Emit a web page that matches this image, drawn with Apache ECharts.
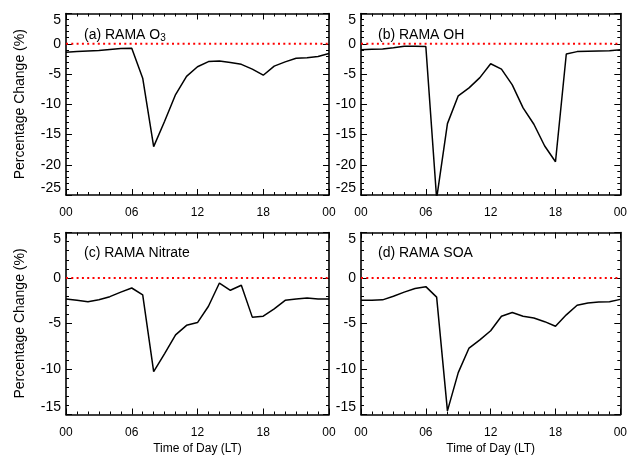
<!DOCTYPE html>
<html><head><meta charset="utf-8">
<script src="https://cdn.jsdelivr.net/npm/echarts@6/dist/echarts.min.js"></script>
<style>html,body{margin:0;padding:0;background:#fff}#c{width:630px;height:456px}</style>
</head><body><div id="c"></div>
<script>
// Hour of day (LT)
const hours = [0,1,2,3,4,5,6,7,8,9,10,11,12,13,14,15,16,17,18,19,20,21,22,23,24];
// Percentage change (%)
const o3      = [-1.4,-1.3,-1.2,-1.1,-0.95,-0.8,-0.75,-5.7,-17.0,-12.8,-8.4,-5.4,-3.8,-2.95,-2.85,-3.1,-3.4,-4.2,-5.2,-3.7,-3.0,-2.4,-2.3,-2.1,-1.6];
const oh      = [-1.0,-0.9,-0.85,-0.65,-0.4,-0.4,-0.45,-25.6,-13.2,-8.6,-7.3,-5.6,-3.3,-4.2,-6.8,-10.6,-13.3,-16.9,-19.5,-1.7,-1.3,-1.25,-1.2,-1.15,-1.0];
const nitrate = [-2.3,-2.45,-2.6,-2.4,-2.05,-1.55,-1.1,-1.85,-10.3,-8.3,-6.25,-5.2,-4.9,-3.1,-0.55,-1.35,-0.8,-4.3,-4.2,-3.4,-2.45,-2.3,-2.2,-2.3,-2.3];
const soa     = [-2.45,-2.45,-2.4,-2.0,-1.55,-1.15,-0.95,-2.1,-14.6,-10.4,-7.7,-6.8,-5.8,-4.2,-3.8,-4.2,-4.4,-4.8,-5.3,-4.05,-3.0,-2.75,-2.65,-2.6,-2.35];
const xTickLabels = ['00','06','12','18','00'];
const panelLabels = ['(a) RAMA O', '(b) RAMA OH', '(c) RAMA Nitrate', '(d) RAMA SOA'];
const yRanges = [[-25,5],[-25,5],[-15,5],[-15,5]];
const seriesList = [o3, oh, nitrate, soa];

const FONT = '"Liberation Sans", Arial, Helvetica, sans-serif';
const grids = [
  {left:66, top:13.5, width:263, height:181.5},
  {left:361, top:13.5, width:262, height:181.5},
  {left:66, top:232.5, width:263, height:182},
  {left:361, top:232.5, width:262, height:182}
];
const titlePos = [[84,27],[378,27],[84,245.5],[378,245.5]];

const axisLineStyle = {show:true, onZero:false, lineStyle:{color:'#000', width:1.6}};
const xAxes = [], yAxes = [], series = [], titles = [];
grids.forEach((g, i) => {
  const isBottom = i >= 2;
  const isLeft = i % 2 === 0;
  const xBase = {gridIndex:i, type:'value', min:0, max:24, interval:6,
    axisLine:axisLineStyle, splitLine:{show:false},
    axisTick:{show:true, inside:true, length:6, lineStyle:{color:'#000', width:1}},
    minorTick:{show:true, splitNumber:6, length:3, lineStyle:{color:'#000', width:1}}};
  xAxes.push(Object.assign({}, xBase, {position:'bottom',
    axisLabel:{show:true, margin:isBottom?12:12, color:'#000', fontSize:12, fontFamily:FONT,
      formatter: v => xTickLabels[Math.round(v/6)]},
    name: isBottom ? 'Time of Day (LT)' : '', nameLocation:'middle', nameGap:28,
    nameTextStyle:{color:'#000', fontSize:12, fontFamily:FONT}}));
  xAxes.push(Object.assign({}, xBase, {position:'top', axisLabel:{show:false}}));
  const yBase = {gridIndex:i, type:'value', min:yRanges[i][0], max:yRanges[i][1], interval:5,
    axisLine:axisLineStyle, splitLine:{show:false},
    axisTick:{show:true, inside:true, length:6, lineStyle:{color:'#000', width:1}},
    minorTick:{show:true, splitNumber:5, length:3, lineStyle:{color:'#000', width:1}}};
  yAxes.push(Object.assign({}, yBase, {position:'left',
    axisLabel:{show:true, margin:5, color:'#000', fontSize:14, fontFamily:FONT,
      verticalAlignMaxLabel:'top', verticalAlignMinLabel:'bottom'},
    name: isLeft ? 'Percentage Change (%)' : '', nameLocation:'middle', nameGap:39,
    nameTextStyle:{color:'#000', fontSize:14, fontFamily:FONT}}));
  yAxes.push(Object.assign({}, yBase, {position:'right', axisLabel:{show:false}}));

  series.push({type:'line', xAxisIndex:2*i, yAxisIndex:2*i, symbol:'none', silent:true,
    data:[[hours[0],0],[hours[hours.length-1],0]],
    lineStyle:{color:'#f00', width:2, type:[2,3.3]}, z:2});
  series.push({type:'line', xAxisIndex:2*i, yAxisIndex:2*i, symbol:'none', silent:true, clip:true,
    data: hours.map((h, k) => [h, seriesList[i][k]]),
    lineStyle:{color:'#000', width:1.5}, z:3});

  titles.push({left:titlePos[i][0], top:titlePos[i][1], padding:0,
    text: i === 0 ? '{m|' + panelLabels[i] + '}{s|3}' : '{m|' + panelLabels[i] + '}',
    textStyle:{fontWeight:'normal', fontSize:14, fontFamily:FONT, color:'#000', rich:{
      m:{fontSize:14, fontWeight:'normal', fontFamily:FONT, color:'#000', lineHeight:16},
      s:{fontSize:10, fontWeight:'normal', fontFamily:FONT, color:'#000', lineHeight:10, verticalAlign:'bottom'}
    }}});
});

const chart = echarts.init(document.getElementById('c'), null, {renderer:'canvas'});
chart.setOption({
  backgroundColor:'#fff',
  animation:false,
  title: titles,
  grid: grids,
  xAxis: xAxes,
  yAxis: yAxes,
  series: series
});
</script>
</body></html>
